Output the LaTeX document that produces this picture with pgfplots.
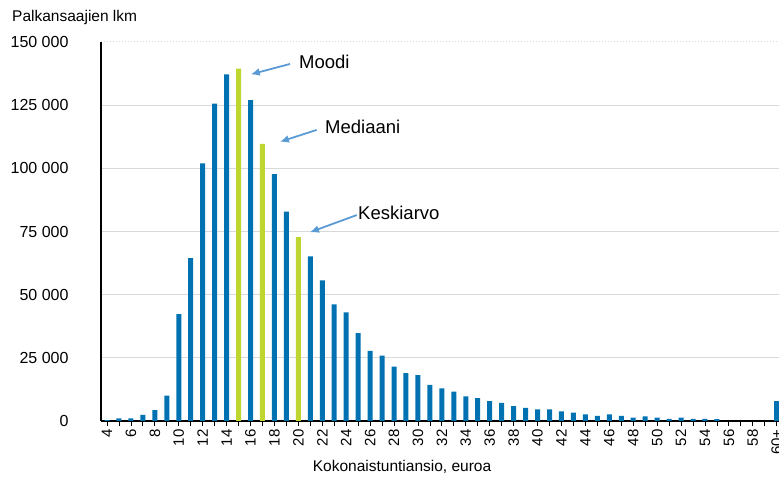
\documentclass[border=0pt]{standalone}
\usepackage{pgfplots}
\pgfplotsset{compat=1.18}
\usepackage{fontspec}
\setmainfont{Liberation Sans}
\definecolor{barblue}{RGB}{0,114,178}
\definecolor{bargreen}{RGB}{190,214,47}
\definecolor{arrowblue}{RGB}{91,155,213}
\definecolor{gridgray}{RGB}{217,217,217}
\usetikzlibrary{arrows.meta}
\begin{document}
\begin{tikzpicture}
\useasboundingbox (0,0) rectangle (779pt,478pt);
\begin{axis}[
    at={(101pt,57pt)}, anchor=south west,
    scale only axis, width=678pt, height=379pt,
    xmin=3.498, xmax=60.19, ymin=0, ymax=150000,
    scaled ticks=false,
    ybar, bar width=5pt, bar shift=0pt,
    axis x line*=bottom, axis y line*=left,
    axis line style={black, line width=1.2pt, -},
    xtick={4,6,...,60},
    xticklabels={4,6,8,10,12,14,16,18,20,22,24,26,28,30,32,34,36,38,40,42,44,46,48,50,52,54,56,58,60+},
    minor x tick num=1,
    tick align=outside,
    major tick length=5pt, minor tick length=5pt,
    every tick/.style={black, line width=0.8pt},
    xticklabel style={rotate=90, anchor=east, font=\fontsize{15}{16}\selectfont},
    ytick={0,25000,50000,75000,100000,125000},
    yticklabels={0,25 000,50 000,75 000,100 000,125 000},
    extra y ticks={150000}, extra y tick labels={150 000},
    extra y tick style={major grid style={gridgray, dotted, line width=1pt}},
    ytick style={draw=none},
    yticklabel style={xshift=-24pt, font=\fontsize{16}{18}\selectfont},
    ymajorgrids, major grid style={gridgray, line width=1pt},
    xlabel={Kokonaistuntiansio, euroa},
    xlabel style={at={(rel axis cs:0.444,0)}, anchor=center, yshift=-46pt, font=\fontsize{15.5}{18}\selectfont},
    clip=false,
]
\addplot[fill=barblue, draw=none] coordinates {
(4,300) (5,1000) (6,1000) (7,2400) (8,4300) (9,10000) (10,42300) (11,64500)
(12,102000) (13,125600) (14,137200) (16,127000) (18,97700) (19,82900)
(21,65200) (22,55700) (23,46200) (24,43000) (25,34800) (26,27800) (27,25900)
(28,21500) (29,18900) (30,18200) (31,14300) (32,12900) (33,11600) (34,9700)
(35,9100) (36,7900) (37,7200) (38,5900) (39,5200) (40,4600) (41,4600)
(42,3800) (43,3300) (44,2600) (45,2000) (46,2600) (47,2000) (48,1300)
(49,1800) (50,1300) (51,800) (52,1300) (53,800) (54,800) (55,700) (60,7900)
};
\addplot[fill=bargreen, draw=none] coordinates {
(15,139500) (17,109700) (20,72800)
};
% annotation arrows
\draw[arrowblue, line width=1.8pt, -{Latex[length=9pt,width=8pt]}] (axis cs:19.30,141300) -- (axis cs:16.02,137200);
\draw[arrowblue, line width=1.8pt, -{Latex[length=9pt,width=8pt]}] (axis cs:21.53,115200) -- (axis cs:18.46,110500);
\draw[arrowblue, line width=1.8pt, -{Latex[length=9pt,width=8pt]}] (axis cs:24.88,81500) -- (axis cs:20.97,74700);
\node[anchor=west, inner sep=0pt, font=\fontsize{18.5}{22}\selectfont] at (axis cs:20.05,142100) {Moodi};
\node[anchor=west, inner sep=0pt, font=\fontsize{18.5}{22}\selectfont] at (axis cs:22.23,116300) {Mediaani};
\node[anchor=west, inner sep=0pt, font=\fontsize{18.5}{22}\selectfont] at (axis cs:24.99,82300) {Keskiarvo};
\node[anchor=west, inner sep=0pt, font=\fontsize{15.5}{18}\selectfont] at ([xshift=-89pt,yshift=24pt]rel axis cs:0,1) {Palkansaajien lkm};
\end{axis}
\end{tikzpicture}
\end{document}
